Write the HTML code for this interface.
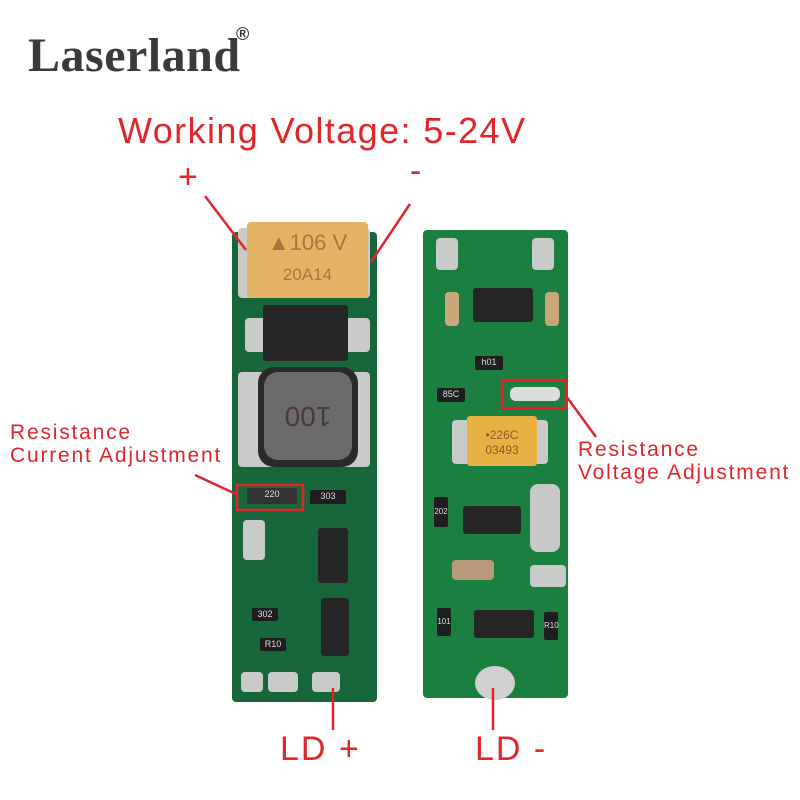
<!DOCTYPE html>
<html><head><meta charset="utf-8"><style>
body{margin:0;width:800px;height:800px;background:#fff;position:relative;overflow:hidden;font-family:"Liberation Sans",sans-serif}
.a{position:absolute}
.g1{background:#17673a}
.g2{background:#1b7f40}
.blk{background:#262626;border-radius:3px}
.sil{background:#c9cbc9;border-radius:4px}
.res{background:#1e1e1e;border-radius:2px;color:#ddd;font-size:9px;text-align:center;line-height:12px}
.red{color:#e0262a}
</style></head><body>
<div class="a" style="left:28px;top:28px;font:bold 48px 'Liberation Serif',serif;color:#3a3a3a;letter-spacing:0.5px">Laserland</div>
<div class="a" style="left:236px;top:24px;font:bold 18px 'Liberation Sans',sans-serif;color:#3a3a3a">®</div>
<div class="a red" style="left:118px;top:110px;font-size:36px;letter-spacing:1.4px">Working Voltage: 5-24V</div>
<div class="a red" style="left:178px;top:158px;font-size:34px">+</div>
<div class="a red" style="left:410px;top:152px;font-size:34px">-</div>
<div class="a red" style="left:10px;top:421px;font-size:21px;line-height:23px;letter-spacing:1.8px">Resistance<br>Current Adjustment</div>
<div class="a red" style="left:578px;top:438px;font-size:21px;line-height:23px;letter-spacing:1.8px">Resistance<br>Voltage Adjustment</div>
<div class="a red" style="left:280px;top:730px;font-size:34px;letter-spacing:2px">LD +</div>
<div class="a red" style="left:475px;top:730px;font-size:34px;letter-spacing:2px">LD -</div>

<!-- left board -->
<div class="a g1" style="left:232px;top:232px;width:145px;height:470px;border-radius:4px"></div>
<div class="a sil" style="left:238px;top:228px;width:132px;height:70px"></div>
<div class="a" style="left:247px;top:222px;width:121px;height:76px;background:#e3b465;border-radius:4px;color:#a6763a;font-size:22px;text-align:center;line-height:30px;padding-top:6px;box-sizing:border-box">▲106 V<br><span style="font-size:17px">20A14</span></div>
<div class="a sil" style="left:245px;top:318px;width:125px;height:34px"></div>
<div class="a blk" style="left:263px;top:305px;width:85px;height:56px"></div>
<div class="a sil" style="left:238px;top:372px;width:132px;height:95px"></div>
<div class="a" style="left:258px;top:367px;width:100px;height:100px;background:#2a2a2a;border-radius:16px"></div>
<div class="a" style="left:264px;top:372px;width:88px;height:88px;background:#6b6b6b;border-radius:14px;color:#4a3a3a;font-size:28px;text-align:center;line-height:88px;transform:rotate(180deg)">100</div>
<div class="a res" style="left:247px;top:488px;width:50px;height:16px;background:#333">220</div>
<div class="a res" style="left:310px;top:490px;width:36px;height:14px">303</div>
<div class="a blk" style="left:318px;top:528px;width:30px;height:55px"></div>
<div class="a blk" style="left:321px;top:598px;width:28px;height:58px"></div>
<div class="a sil" style="left:243px;top:520px;width:22px;height:40px"></div>
<div class="a res" style="left:252px;top:608px;width:26px;height:13px">302</div>
<div class="a res" style="left:260px;top:638px;width:26px;height:13px">R10</div>
<div class="a sil" style="left:241px;top:672px;width:22px;height:20px"></div>
<div class="a sil" style="left:268px;top:672px;width:30px;height:20px"></div>
<div class="a sil" style="left:312px;top:672px;width:28px;height:20px"></div>

<!-- right board -->
<div class="a g2" style="left:423px;top:230px;width:145px;height:468px;border-radius:4px"></div>
<div class="a sil" style="left:436px;top:238px;width:22px;height:32px"></div>
<div class="a sil" style="left:532px;top:238px;width:22px;height:32px"></div>
<div class="a blk" style="left:473px;top:288px;width:60px;height:34px"></div>
<div class="a sil" style="left:445px;top:292px;width:14px;height:34px;background:#c9a57a"></div>
<div class="a sil" style="left:545px;top:292px;width:14px;height:34px;background:#c9a57a"></div>
<div class="a res" style="left:475px;top:356px;width:28px;height:14px">h01</div>
<div class="a res" style="left:437px;top:388px;width:28px;height:14px">85C</div>
<div class="a" style="left:510px;top:387px;width:50px;height:14px;background:#ddd;border-radius:6px"></div>
<div class="a sil" style="left:452px;top:420px;width:96px;height:44px"></div>
<div class="a" style="left:467px;top:416px;width:70px;height:50px;background:#e7b143;border-radius:3px;color:#8a5a20;font-size:12px;text-align:center;line-height:15px;padding-top:12px;box-sizing:border-box">•226C<br>03493</div>
<div class="a res" style="left:434px;top:497px;width:14px;height:30px;line-height:30px;font-size:8px">202</div>
<div class="a blk" style="left:463px;top:506px;width:58px;height:28px"></div>
<div class="a" style="left:530px;top:484px;width:30px;height:68px;background:#c8c8c8;border-radius:8px"></div>
<div class="a sil" style="left:452px;top:560px;width:42px;height:20px;background:#b89a7a"></div>
<div class="a sil" style="left:530px;top:565px;width:36px;height:22px"></div>
<div class="a blk" style="left:474px;top:610px;width:60px;height:28px"></div>
<div class="a res" style="left:437px;top:608px;width:14px;height:28px;line-height:28px;font-size:8px">101</div>
<div class="a res" style="left:544px;top:612px;width:14px;height:28px;line-height:28px;font-size:8px">R10</div>
<div class="a" style="left:475px;top:666px;width:40px;height:34px;background:#d0d0d0;border-radius:50%"></div>

<svg class="a" style="left:0;top:0" width="800" height="800">
<g stroke="#e0262a" stroke-width="2.5" fill="none">
<line x1="205" y1="196" x2="246" y2="250"/>
<line x1="410" y1="204" x2="371" y2="262"/>
<line x1="195" y1="475" x2="238" y2="495"/>
<rect x="237" y="485" width="66" height="25"/>
<rect x="502" y="380" width="64" height="28"/>
<line x1="566" y1="396" x2="596" y2="437"/>
<line x1="333" y1="688" x2="333" y2="730"/>
<line x1="493" y1="688" x2="493" y2="730"/>
</g></svg>
</body></html>
